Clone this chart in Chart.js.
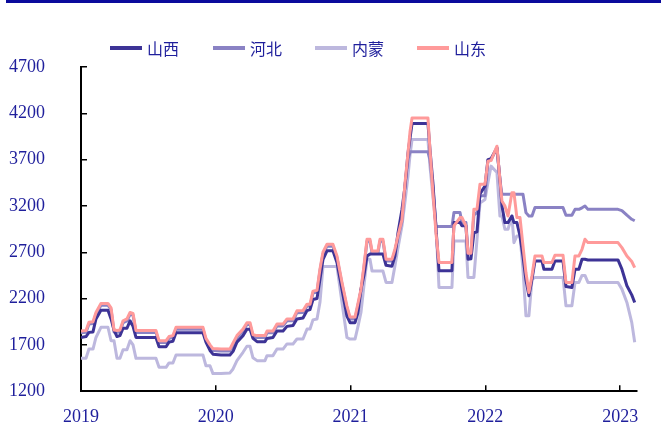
<!DOCTYPE html>
<html>
<head>
<meta charset="utf-8">
<script src="https://cdn.jsdelivr.net/npm/chart.js@4"></script>
<style>
  body { margin: 0; background: #fff; }
  #wrap { position: relative; width: 661px; height: 444px; }
  #topbar { position: absolute; left: 6px; top: 0; width: 655px; height: 3px; background: #0a0a9c; }
</style>
</head>
<body>
<div id="wrap">
  <div id="topbar"></div>
  <canvas id="priceChart"></canvas>
</div>
<script>
// 时间（年，小数）
const weeks = [
  2019.000, 2019.037, 2019.059, 2019.089, 2019.111, 2019.148, 2019.200, 2019.223, 2019.245, 2019.267,
  2019.289, 2019.312, 2019.341, 2019.364, 2019.386, 2019.408, 2019.556, 2019.579, 2019.631, 2019.653,
  2019.682, 2019.705, 2019.727, 2019.905, 2019.927, 2019.957, 2019.979, 2020.039, 2020.105, 2020.128,
  2020.157, 2020.202, 2020.231, 2020.254, 2020.276, 2020.306, 2020.365, 2020.380, 2020.424, 2020.454,
  2020.499, 2020.528, 2020.573, 2020.602, 2020.647, 2020.677, 2020.699, 2020.721, 2020.751, 2020.773,
  2020.795, 2020.825, 2020.869, 2020.899, 2020.936, 2020.973, 2020.996, 2021.033, 2021.055, 2021.077,
  2021.099, 2021.122, 2021.144, 2021.159, 2021.203, 2021.218, 2021.240, 2021.263, 2021.307, 2021.329,
  2021.352, 2021.381, 2021.404, 2021.426, 2021.441, 2021.456, 2021.574, 2021.589, 2021.611, 2021.634,
  2021.656, 2021.752, 2021.767, 2021.812, 2021.826, 2021.856, 2021.871, 2021.893, 2021.915, 2021.938,
  2021.960, 2021.997, 2022.019, 2022.042, 2022.086, 2022.108, 2022.123, 2022.145, 2022.168, 2022.197,
  2022.212, 2022.234, 2022.257, 2022.279, 2022.301, 2022.323, 2022.346, 2022.368, 2022.420, 2022.434,
  2022.494, 2022.516, 2022.576, 2022.598, 2022.642, 2022.665, 2022.694, 2022.717, 2022.739, 2022.761,
  2022.984, 2023.013, 2023.050, 2023.086, 2023.108
];

const shanxi = [
  1780, 1790, 1835, 1840, 1980, 2075, 2075, 1980, 1860, 1790,
  1800, 1880, 1880, 1960, 1900, 1780, 1780, 1680, 1680, 1730,
  1740, 1830, 1830, 1830, 1730, 1640, 1600, 1590, 1590, 1630,
  1730, 1800, 1870, 1870, 1770, 1735, 1735, 1770, 1780, 1850,
  1850, 1900, 1910, 1980, 1990, 2070, 2080, 2190, 2200, 2410,
  2620, 2715, 2715, 2590, 2300, 2010, 1940, 1940, 2050, 2300,
  2450, 2660, 2680, 2680, 2680, 2680, 2680, 2560, 2550, 2660,
  2910, 3160, 3410, 3770, 3930, 4090, 4090, 3810, 3450, 2950,
  2500, 2500, 3020, 3020, 2985, 2985, 2625, 2630, 2910, 2920,
  3330, 3414, 3700, 3710, 3826, 3486, 3200, 3020, 3020, 3091,
  3020, 3020, 2876, 2660, 2400, 2230, 2410, 2606, 2606, 2517,
  2517, 2606, 2606, 2330, 2320, 2517, 2517, 2625, 2625, 2617,
  2617, 2517, 2338, 2240, 2158
];

const hebei = [
  1830, 1835, 1925, 1930, 2030, 2128, 2128, 2080, 1840, 1835,
  1840, 1940, 1960, 2030, 2020, 1835, 1835, 1725, 1725, 1770,
  1780, 1870, 1870, 1870, 1750, 1680, 1640, 1635, 1635, 1700,
  1780, 1850, 1920, 1920, 1790, 1780, 1780, 1830, 1830, 1905,
  1905, 1960, 1960, 2048, 2050, 2120, 2120, 2260, 2270, 2500,
  2680, 2766, 2766, 2640, 2357, 2098, 1980, 1980, 2130, 2280,
  2530, 2820, 2820, 2694, 2694, 2820, 2820, 2605, 2605, 2713,
  2860, 3030, 3430, 3700, 3785, 3785, 3785, 3700, 3400, 2977,
  2977, 2977, 3130, 3130, 3020, 3020, 2690, 2690, 3100, 3130,
  3310, 3310, 3690, 3700, 3830, 3480, 3325, 3325, 3325, 3325,
  3325, 3325, 3325, 3325, 3128, 3091, 3091, 3182, 3182, 3182,
  3182, 3182, 3182, 3099, 3099, 3163, 3163, 3180, 3200, 3163,
  3163, 3150, 3100, 3056, 3040
];

const neimeng = [
  1555, 1555, 1655, 1655, 1780, 1890, 1890, 1745, 1745, 1555,
  1555, 1648, 1648, 1745, 1700, 1555, 1555, 1458, 1458, 1505,
  1505, 1590, 1590, 1590, 1475, 1475, 1390, 1390, 1397, 1440,
  1530, 1620, 1685, 1685, 1560, 1530, 1530, 1584, 1584, 1655,
  1655, 1710, 1710, 1763, 1763, 1871, 1871, 1970, 1980, 2160,
  2546, 2546, 2546, 2546, 2160, 1780, 1763, 1763, 1900, 2050,
  2338, 2625, 2625, 2499, 2499, 2499, 2499, 2374, 2374, 2553,
  2750, 2984, 3250, 3522, 3750, 3917, 3917, 3630, 3300, 2984,
  2320, 2320, 2822, 2822, 2822, 2822, 2428, 2428, 2428, 2840,
  3230, 3270, 3450, 3630, 3560, 3091, 3091, 2948, 2948, 3091,
  2804, 2876, 2876, 2517, 2014, 2014, 2410, 2428, 2428, 2428,
  2428, 2428, 2428, 2122, 2122, 2374, 2374, 2450, 2450, 2374,
  2374, 2302, 2158, 1943, 1728
];

const shandong = [
  1850, 1855, 1945, 1950, 2050, 2148, 2148, 2100, 1860, 1855,
  1860, 1960, 1980, 2050, 2040, 1855, 1855, 1745, 1745, 1790,
  1800, 1890, 1890, 1890, 1770, 1700, 1660, 1655, 1655, 1720,
  1800, 1870, 1940, 1940, 1810, 1800, 1800, 1850, 1850, 1925,
  1925, 1980, 1980, 2068, 2070, 2140, 2140, 2280, 2290, 2520,
  2700, 2786, 2786, 2660, 2377, 2118, 2000, 2000, 2150, 2300,
  2550, 2840, 2840, 2714, 2714, 2840, 2840, 2625, 2625, 2733,
  2880, 3050, 3450, 3774, 4000, 4150, 4150, 3810, 3343, 2900,
  2590, 2590, 2985, 3075, 3075, 2985, 2690, 2690, 3165, 3165,
  3434, 3434, 3684, 3690, 3845, 3486, 3253, 3200, 3091, 3343,
  3343, 3074, 3074, 2768, 2481, 2266, 2450, 2660, 2660, 2589,
  2589, 2668, 2668, 2374, 2374, 2660, 2660, 2732, 2840, 2804,
  2804, 2750, 2660, 2600, 2535
];

const seriesNames = ['山西', '河北', '内蒙', '山东'];
const seriesColors = ['#3d3396', '#8a82c4', '#bdb8de', '#ff9a9a'];
const yearTicks = [2019, 2020, 2021, 2022, 2023];
const yTicks = [1200, 1700, 2200, 2700, 3200, 3700, 4200, 4700];

const textColor = '#1f1f9c';

function toPoints(values) {
    return weeks.map((w, i) => ({ x: w, y: values[i] }));
}

// legend digambar sendiri supaya posisinya pas
const legendPlugin = {
    id: 'manualLegend',
    afterDraw(chart) {
        const ctx = chart.ctx;
        const startX = [110, 213, 315, 417];
        const y = 48;
        ctx.save();
        seriesNames.forEach((name, i) => {
            ctx.strokeStyle = seriesColors[i];
            ctx.lineWidth = 4;
            ctx.beginPath();
            ctx.moveTo(startX[i], y);
            ctx.lineTo(startX[i] + 32, y);
            ctx.stroke();
            ctx.fillStyle = textColor;
            ctx.font = '16px "Noto Sans CJK SC"';
            ctx.textBaseline = 'middle';
            ctx.textAlign = 'left';
            ctx.fillText(name, startX[i] + 37, y + 1);
        });
        ctx.restore();
    }
};

const datasets = [
    { label: '山西', data: toPoints(shanxi), borderColor: seriesColors[0], order: 1 },
    { label: '河北', data: toPoints(hebei), borderColor: seriesColors[1], order: 2 },
    { label: '内蒙', data: toPoints(neimeng), borderColor: seriesColors[2], order: 3 },
    { label: '山东', data: toPoints(shandong), borderColor: seriesColors[3], order: 0 }
].map(d => Object.assign(d, {
    backgroundColor: d.borderColor,
    borderWidth: 3,
    pointRadius: 0,
    tension: 0,
    fill: false,
    borderJoinStyle: 'round'
}));

const tickFont = { family: '"Liberation Serif", "Times New Roman", serif', size: 18 };

const ctx = document.getElementById('priceChart').getContext('2d');
const chart = new Chart(ctx, {
    type: 'line',
    data: { datasets: datasets },
    options: {
        responsive: true,
        maintainAspectRatio: false,
        animation: false,
        layout: { padding: { top: 67, right: 24, left: 0, bottom: 0 } },
        plugins: {
            legend: { display: false },
            tooltip: { enabled: false }
        },
        scales: {
            x: {
                type: 'linear',
                min: 2019,
                max: 2023.125,
                afterBuildTicks: scale => { scale.ticks = yearTicks.map(v => ({ value: v })); },
                afterFit: scale => { scale.height = 52; },
                ticks: { color: textColor, font: tickFont, padding: 21, callback: v => String(v) },
                grid: { drawOnChartArea: false, tickLength: -6, color: '#000', lineWidth: 1.5 },
                border: { display: true, color: '#000', width: 2 }
            },
            y: {
                min: 1200,
                max: 4700,
                afterBuildTicks: scale => { scale.ticks = yTicks.map(v => ({ value: v })); },
                afterFit: scale => { scale.width = 81; },
                ticks: { color: textColor, font: tickFont, padding: 42, callback: v => String(v) },
                grid: { drawOnChartArea: false, tickLength: -6, color: '#000', lineWidth: 1.5 },
                border: { display: true, color: '#000', width: 2 }
            }
        }
    },
    plugins: [legendPlugin]
});
</script>
</body>
</html>
